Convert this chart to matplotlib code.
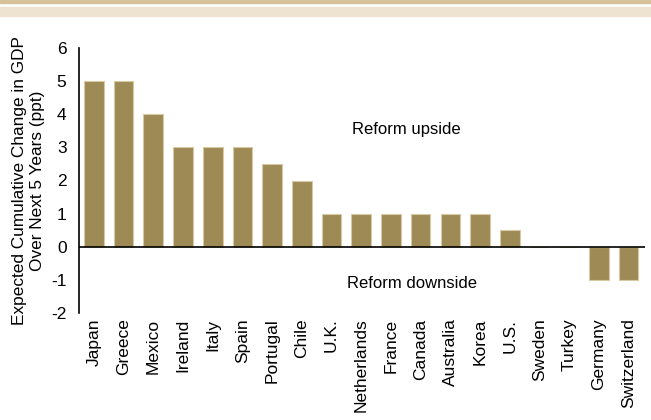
import matplotlib.pyplot as plt
from matplotlib.patches import Rectangle

plt.rcParams['font.family'] = ['Liberation Sans', 'DejaVu Sans']

# Reform impact by country (ppt, next 5 years)
countries = ['Japan', 'Greece', 'Mexico', 'Ireland', 'Italy', 'Spain', 'Portugal',
             'Chile', 'U.K.', 'Netherlands', 'France', 'Canada', 'Australia',
             'Korea', 'U.S.', 'Sweden', 'Turkey', 'Germany', 'Switzerland']
values = [5, 5, 4, 3, 3, 3, 2.5, 2, 1, 1, 1, 1, 1, 1, 0.5, 0, 0, -1, -1]
yticks = [-2, -1, 0, 1, 2, 3, 4, 5, 6]

bar_color = '#9E8A55'
edge_color = '#D6C9A3'

fig = plt.figure(figsize=(6.51, 4.2), dpi=100)

# decorative header strips
fig.patches.append(Rectangle((0, 1 - 3 / 420), 1, 3 / 420, transform=fig.transFigure,
                             color='#D6C19A', zorder=0))
fig.patches.append(Rectangle((0, 1 - 16 / 420), 1, 9 / 420, transform=fig.transFigure,
                             color='#EEE3D0', zorder=0))

ax = fig.add_axes([79 / 651, 1 - 313 / 420, (645 - 79) / 651, (313 - 48) / 420])
x = range(len(countries))
ax.bar(x, values, width=0.66, color=bar_color, edgecolor=edge_color, linewidth=0.8)
ax.axhline(0, color='black', linewidth=1.2)

ax.set_ylim(-2, 6)
ax.set_xlim(-0.5, len(countries) - 0.45)
ax.set_yticks(yticks)
ax.set_yticklabels([str(t) for t in yticks])
ax.set_xticks(list(x))
ax.set_xticklabels(countries, rotation=90)
ax.tick_params(axis='both', length=0, labelsize=12.5)
ax.tick_params(axis='y', pad=9)
ax.tick_params(axis='x', pad=4)

for s in ['top', 'right', 'bottom']:
    ax.spines[s].set_visible(False)
ax.spines['left'].set_linewidth(1.2)

ax.set_ylabel('Expected Cumulative Change in GDP\nOver Next 5 Years (ppt)', fontsize=12.4,
              labelpad=4, linespacing=1.25)

ax.text(10.5, 3.55, 'Reform upside', ha='center', va='center', fontsize=12)
ax.text(10.7, -1.12, 'Reform downside', ha='center', va='center', fontsize=12)

fig.savefig('out.png', dpi=100)
